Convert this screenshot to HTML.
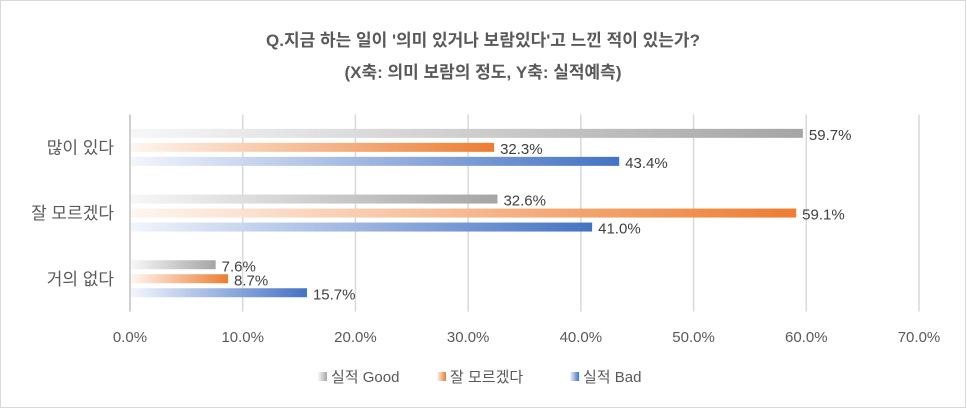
<!DOCTYPE html>
<html><head><meta charset="utf-8"><style>
body{margin:0;background:#fff}
svg{display:block;font-family:"Liberation Sans","Noto Sans CJK KR",sans-serif}
</style></head><body>
<svg id="c" width="966" height="408">
<defs>
<linearGradient id="gG" x1="0" x2="1" y1="0" y2="0"><stop offset="0" stop-color="#f7f7f7"/><stop offset="1" stop-color="#a5a5a5"/></linearGradient>
<linearGradient id="gO" x1="0" x2="1" y1="0" y2="0"><stop offset="0" stop-color="#fef6f0"/><stop offset="1" stop-color="#ed7d31"/></linearGradient>
<linearGradient id="gB" x1="0" x2="1" y1="0" y2="0"><stop offset="0" stop-color="#f2f5fc"/><stop offset="1" stop-color="#4472c4"/></linearGradient>
</defs>
<rect x="0.5" y="0.5" width="965" height="407" fill="#fff" stroke="#d9d9d9"/>
<text x="483" y="46" text-anchor="middle" font-size="17" font-weight="bold" fill="#595959">Q.지금 하는 일이 '의미 있거나 보람있다'고 느낀 적이 있는가?</text>
<text x="483" y="78" text-anchor="middle" font-size="17" font-weight="bold" fill="#595959">(X축: 의미 보람의 정도, Y축: 실적예측)</text>
<g id="grid"></g><g id="bars"></g><g id="labels"></g>
<g id="legend"></g>
</svg>
<script>
const categories=["많이 있다","잘 모르겠다","거의 없다"];
const seriesNames=["실적 Good","잘 모르겠다","실적 Bad"];
const good=[59.7,32.6,7.6];
const unsure=[32.3,59.1,8.7];
const bad=[43.4,41.0,15.7];
const ticks=[0,10,20,30,40,50,60,70];
const series=[good,unsure,bad];
const fills=["url(#gG)","url(#gO)","url(#gB)"];
const ns="http://www.w3.org/2000/svg";
const x0=130,x1=919,xmax=70,plotTop=114.5,band=65.7;
const X=v=>x0+(x1-x0)*v/xmax;
function mk(t,a,p,txt){const e=document.createElementNS(ns,t);for(const k in a)e.setAttribute(k,a[k]);if(txt!=null)e.textContent=txt;p.appendChild(e);return e;}
const grid=document.getElementById('grid'),bars=document.getElementById('bars'),labels=document.getElementById('labels');
ticks.forEach(t=>{
 const l=mk('line',{x1:X(t),x2:X(t),y1:plotTop,y2:plotTop+band*3,stroke:t===0?'#d0d0d0':'#d9d9d9','stroke-width':t===0?2:1.5},grid);
 
 
 const tx=mk('text',{x:X(t),y:342,'text-anchor':'middle','font-size':15,fill:'#595959'},grid,t.toFixed(1)+'%');
 
 
});
categories.forEach((c,i)=>{
 const cy=plotTop+band*(i+0.5);
 const ct=mk('text',{x:114,y:cy+6,'text-anchor':'end','font-size':17,fill:'#595959'},labels,c);
 
 
 series.forEach((s,j)=>{
  const by=cy+(j-1)*14-4.5;
  const r=mk('rect',{x:x0+1,y:by,width:X(s[i])-x0-1,height:9,fill:fills[j]},bars);
  
  
  const lt=mk('text',{x:X(s[i])+6,y:by+11,'font-size':15,fill:'#404040'},labels,s[i].toFixed(1)+'%');
  
  
 });
});
const lg=document.getElementById('legend');
const lx=[318,437,570];
seriesNames.forEach((n,j)=>{
 const r=mk('rect',{x:lx[j],y:372,width:9,height:9,fill:fills[j]},lg);
 
 
 const t=mk('text',{x:lx[j]+13,y:382,'font-size':15,fill:'#595959'},lg,n);
 
 
});
</script>
</body></html>
